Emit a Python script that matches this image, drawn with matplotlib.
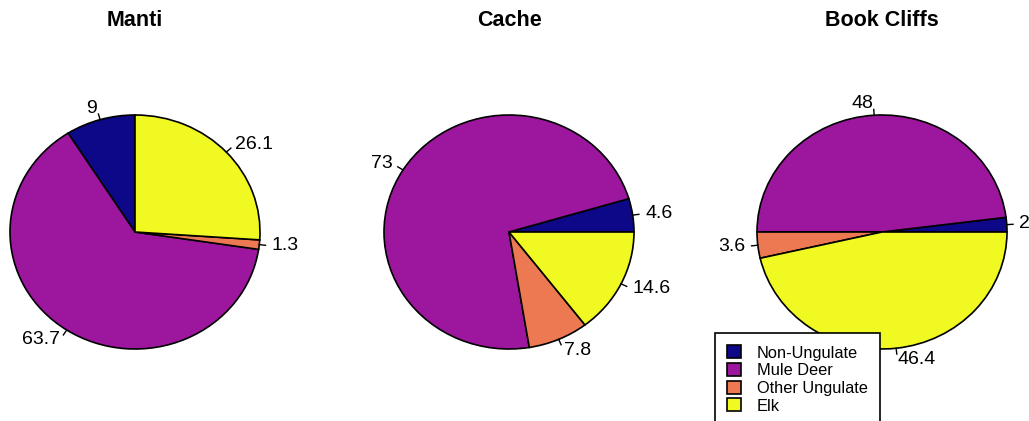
import numpy as np
import matplotlib.pyplot as plt

plt.rcParams['font.family'] = ['Liberation Sans', 'DejaVu Sans']

categories = ['Non-Ungulate', 'Mule Deer', 'Other Ungulate', 'Elk']
colors = ['#0D0887', '#9C179E', '#ED7953', '#F0F921']

regions = ['Manti', 'Cache', 'Book Cliffs']
manti = [9, 63.7, 1.3, 26.1]
cache = [4.6, 73, 7.8, 14.6]
book_cliffs = [2, 48, 3.6, 46.4]
values = [manti, cache, book_cliffs]
start_angles = [90, 0, 0]

W, H = 1029, 421
fig = plt.figure(figsize=(W / 100, H / 100), dpi=100)

centers_x = [135, 509, 882]
cy = 232
rx, ry = 125, 117
lim = 1.3

for i in range(3):
    cx = centers_x[i]
    ax = fig.add_axes([(cx - lim * rx) / W, (H - cy - lim * ry) / H,
                       2 * lim * rx / W, 2 * lim * ry / H])
    wedges, _ = ax.pie(values[i], colors=colors, startangle=start_angles[i],
                       counterclock=True,
                       wedgeprops=dict(edgecolor='black', linewidth=1.2))
    ax.set_aspect('auto')
    ax.set_xlim(-lim, lim)
    ax.set_ylim(-lim, lim)
    ax.axis('off')
    for w, v in zip(wedges, values[i]):
        ang = np.deg2rad((w.theta1 + w.theta2) / 2)
        c, s = np.cos(ang), np.sin(ang)
        ax.plot([c, 1.05 * c], [s, 1.05 * s], color='black', lw=1, clip_on=False)
        ax.text(1.1 * c, 1.1 * s, '%g' % v, ha='left' if c > 0 else 'right',
                va='center', fontsize=14, clip_on=False)
    fig.text(cx / W, 1 - 21 / H, regions[i], fontsize=15.5, fontweight='bold',
             ha='center', va='center')
    if i == 0:
        handles = wedges

leg = fig.legend(handles, categories, loc='upper left',
                 bbox_to_anchor=(715 / W, 1 - 333 / H), fontsize=11.8,
                 frameon=True, fancybox=False, edgecolor='black', framealpha=1,
                 handlelength=0.85, handleheight=0.85, labelspacing=0.15,
                 handletextpad=0.95, borderpad=0.75, borderaxespad=0)
leg.get_frame().set_linewidth(1.2)

fig.savefig('out.png', dpi=100)
